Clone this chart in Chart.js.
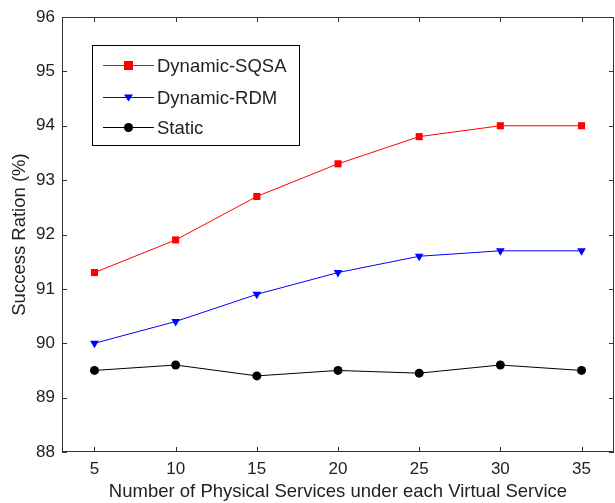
<!DOCTYPE html>
<html><head><meta charset="utf-8">
<script src="https://cdn.jsdelivr.net/npm/chart.js@4/dist/chart.umd.min.js"></script>
<style>html,body{margin:0;padding:0;background:#fff}#wrap{width:615px;height:503px}</style>
</head><body><div id="wrap"><canvas id="c" width="615" height="503"></canvas></div>
<script>
const xValues = [5, 10, 15, 20, 25, 30, 35];
const sqsa = [91.3, 91.9, 92.7, 93.3, 93.8, 94.0, 94.0];
const rdm = [90.0, 90.4, 90.9, 91.3, 91.6, 91.7, 91.7];
const staticVals = [89.5, 89.6, 89.4, 89.5, 89.45, 89.6, 89.5];
const yTicks = [88, 89, 90, 91, 92, 93, 94, 95, 96];
const seriesNames = ['Dynamic-SQSA', 'Dynamic-RDM', 'Static'];

const toPts = arr => arr.map((v, i) => ({x: xValues[i], y: v}));
const FONT = "'Liberation Sans', Arial, sans-serif";

const frame = {
  id: 'frame',
  afterDraw(chart) {
    const {ctx, chartArea: a, scales: {x, y}} = chart;
    ctx.save();
    ctx.strokeStyle = '#333';
    ctx.lineWidth = 1;
    ctx.strokeRect(a.left + 0.5, a.top + 0.5, a.right - a.left - 1, a.bottom - a.top - 1);
    ctx.beginPath();
    const L = 5;
    xValues.forEach(v => {
      const px = Math.round(x.getPixelForValue(v)) + 0.5;
      ctx.moveTo(px, a.bottom); ctx.lineTo(px, a.bottom - L);
      ctx.moveTo(px, a.top); ctx.lineTo(px, a.top + L);
    });
    yTicks.forEach(v => {
      const py = Math.round(y.getPixelForValue(v)) + 0.5;
      ctx.moveTo(a.left, py); ctx.lineTo(a.left + L, py);
      ctx.moveTo(a.right, py); ctx.lineTo(a.right - L, py);
    });
    ctx.stroke();
    // legend
    const bx = 92.5, by = 45.5, bw = 207, bh = 100;
    ctx.fillStyle = '#fff';
    ctx.fillRect(bx, by, bw, bh);
    ctx.strokeStyle = '#000';
    ctx.strokeRect(bx, by, bw, bh);
    const rows = [65, 97, 127];
    chart.data.datasets.forEach((ds, i) => {
      const yy = rows[i] + 0.5;
      ctx.strokeStyle = ds.borderColor;
      ctx.lineWidth = 1;
      ctx.beginPath(); ctx.moveTo(103, yy); ctx.lineTo(154, yy); ctx.stroke();
      ctx.fillStyle = ds.backgroundColor;
      const cx = 128.5;
      if (i === 0) { ctx.fillRect(cx - 4.5, yy - 4.5, 9, 9); }
      else if (i === 1) { ctx.beginPath(); ctx.moveTo(cx - 4.5, yy - 3); ctx.lineTo(cx + 4.5, yy - 3); ctx.lineTo(cx, yy + 4); ctx.closePath(); ctx.fill(); }
      else { ctx.beginPath(); ctx.arc(cx, yy, 4.5, 0, Math.PI * 2); ctx.fill(); }
      ctx.fillStyle = '#222';
      ctx.font = '18.5px ' + FONT;
      ctx.textBaseline = 'middle';
      ctx.fillText(ds.label, 157, yy + 1);
    });
    ctx.restore();
  }
};

new Chart(document.getElementById('c'), {
  type: 'line',
  data: {
    datasets: [
      {label: seriesNames[0], data: toPts(sqsa), borderColor: '#ff0000', backgroundColor: '#ff0000', borderWidth: 1, pointStyle: 'rect', pointRadius: 5, pointBorderWidth: 0, tension: 0},
      {label: seriesNames[1], data: toPts(rdm), borderColor: '#0000ff', backgroundColor: '#0000ff', borderWidth: 1, pointStyle: 'triangle', rotation: 180, pointRadius: 5, pointBorderWidth: 0, tension: 0},
      {label: seriesNames[2], data: toPts(staticVals), borderColor: '#000000', backgroundColor: '#000000', borderWidth: 1, pointStyle: 'circle', pointRadius: 4.5, pointBorderWidth: 0, tension: 0}
    ]
  },
  options: {
    responsive: false,
    animation: false,
    devicePixelRatio: 1,
    layout: {autoPadding: false, padding: {top: 17, right: 1, left: 0, bottom: 0}},
    plugins: {legend: {display: false}, tooltip: {enabled: false}},
    scales: {
      x: {
        type: 'linear', min: 3, max: 37,
        afterBuildTicks: s => { s.ticks = xValues.map(v => ({value: v})); },
        afterFit: s => { s.height = 51; s.paddingRight = 0; s.paddingLeft = 0; },
        grid: {display: false, drawTicks: false},
        border: {display: false},
        ticks: {color: '#222', font: {family: FONT, size: 17}, padding: 7, maxRotation: 0},
        title: {display: true, text: 'Number of Physical Services under each Virtual Service', color: '#222', font: {family: FONT, size: 18.5}, padding: {top: 0, bottom: 0}}
      },
      y: {
        type: 'linear', min: 88, max: 96,
        afterBuildTicks: s => { s.ticks = yTicks.map(v => ({value: v})); },
        afterFit: s => { s.width = 62; s.paddingTop = 0; s.paddingBottom = 0; },
        grid: {display: false, drawTicks: false},
        border: {display: false},
        ticks: {color: '#222', font: {family: FONT, size: 17}, padding: 7},
        title: {display: true, text: 'Success Ration (%)', color: '#222', font: {family: FONT, size: 18.5}, padding: {top: 9, bottom: 0}}
      }
    }
  },
  plugins: [frame]
});
</script></body></html>
